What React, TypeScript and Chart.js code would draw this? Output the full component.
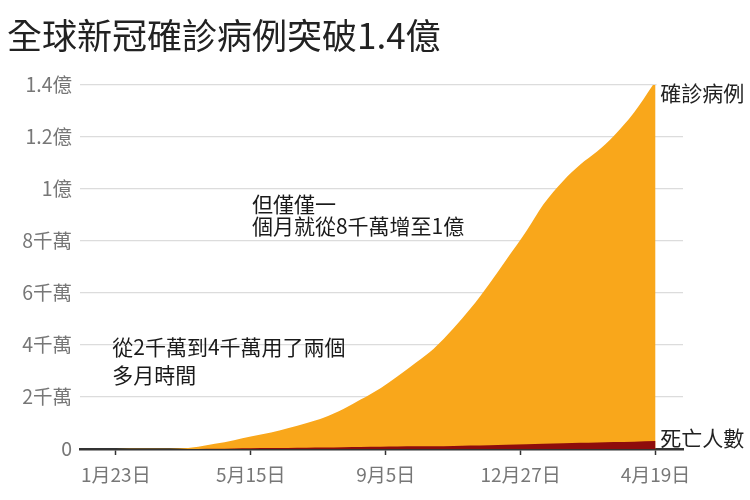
import React, { useEffect, useRef } from "react";
import { Chart, registerables } from "chart.js";

Chart.register(...registerables);

const FONT = '"Noto Sans CJK TC", "Noto Sans", sans-serif';

const TITLE = "全球新冠確診病例突破1.4億";

// Data (values in millions of people)
const dates = [
  "2020-01-23", "2020-02-15", "2020-03-01", "2020-03-15", "2020-04-01",
  "2020-04-15", "2020-05-01", "2020-05-15", "2020-06-01", "2020-06-15",
  "2020-07-01", "2020-07-15", "2020-08-01", "2020-08-15", "2020-09-01",
  "2020-09-15", "2020-10-01", "2020-10-15", "2020-11-01", "2020-11-15",
  "2020-12-01", "2020-12-15", "2021-01-01", "2021-01-15", "2021-02-01",
  "2021-02-15", "2021-03-01", "2021-03-15", "2021-04-01", "2021-04-19",
];
const confirmedMillions = [
  0.0006, 0.07, 0.09, 0.17, 0.9,
  2.0, 3.4, 4.8, 6.3, 8.0,
  10.0, 12.0, 15.5, 19.0, 23.5,
  28.0, 33.5, 38.5, 46.5, 54.0,
  63.7, 72.8, 83.9, 94.0, 103.3,
  109.4, 114.4, 120.4, 129.4, 141.5,
];
const deathsMillions = [
  0.00002, 0.0017, 0.003, 0.0065, 0.047,
  0.13, 0.24, 0.30, 0.37, 0.43,
  0.51, 0.58, 0.68, 0.76, 0.85,
  0.93, 1.01, 1.09, 1.20, 1.30,
  1.47, 1.63, 1.83, 2.02, 2.23,
  2.39, 2.54, 2.65, 2.83, 3.03,
];

const xTickDates = ["2020-01-23", "2020-05-15", "2020-09-05", "2020-12-27", "2021-04-19"];
const xTickLabels = ["1月23日", "5月15日", "9月5日", "12月27日", "4月19日"];
const yTickValues = [0, 20, 40, 60, 80, 100, 120, 140];
const yTickLabels = ["0", "2千萬", "4千萬", "6千萬", "8千萬", "1億", "1.2億", "1.4億"];

const seriesNames = ["確診病例", "死亡人數"];

const annotationTexts = [
  ["從2千萬到4千萬用了兩個", "多月時間"],
  ["但僅僅一", "個月就從8千萬增至1億"],
];

const dayOf = (d: string) =>
  Math.round((Date.parse(d + "T00:00:00Z") - Date.parse("2020-01-23T00:00:00Z")) / 86400000);

// Annotation anchors in data space (date, values per line)
const annotationAnchors = [
  { date: "2020-01-20", values: [39.2, 28.3] },
  { date: "2020-05-16", values: [94.4, 85.6] },
];
const seriesLabelAnchor = { date: "2021-04-23", values: [136.9, 4.2] };

const textPlugin = {
  id: "textPlugin",
  afterDraw(chart: any) {
    const { ctx } = chart;
    const x = chart.scales.x;
    const y = chart.scales.y;
    ctx.save();
    ctx.textBaseline = "middle";
    ctx.textAlign = "left";

    // Title
    ctx.fillStyle = "#222";
    ctx.font = `35px ${FONT}`;
    ctx.fillText(TITLE, 7, 36);

    // Annotations
    ctx.font = `21px ${FONT}`;
    ctx.fillStyle = "#1a1a1a";
    annotationTexts.forEach((lines, i) => {
      const a = annotationAnchors[i];
      const px = x.getPixelForValue(dayOf(a.date));
      lines.forEach((line, j) => {
        ctx.fillText(line, px, y.getPixelForValue(a.values[j]));
      });
    });

    // Series end labels
    ctx.font = `21px ${FONT}`;
    const lx = x.getPixelForValue(dayOf(seriesLabelAnchor.date));
    const lastX = x.getPixelForValue(dayOf(dates[dates.length - 1]));
    seriesNames.forEach((name, i) => {
      const ly = y.getPixelForValue(seriesLabelAnchor.values[i]);
      if (i === 0) {
        const w = ctx.measureText(name).width;
        ctx.fillStyle = "#fff";
        ctx.fillRect(lastX + 1, ly - 12, lx + w - lastX, 24);
      }
      ctx.fillStyle = "#222";
      ctx.fillText(name, lx, ly);
    });
    ctx.restore();
  },
};

export default function App() {
  const canvasRef = useRef<HTMLCanvasElement | null>(null);

  useEffect(() => {
    const canvas = canvasRef.current;
    if (!canvas) return;
    const days = dates.map(dayOf);
    const xTickDays = xTickDates.map(dayOf);

    const chart = new Chart(canvas, {
      type: "line",
      data: {
        datasets: [
          {
            label: seriesNames[1],
            data: days.map((d, i) => ({ x: d, y: deathsMillions[i] })),
            backgroundColor: "#8E0C0C",
            borderWidth: 0,
            pointRadius: 0,
            fill: "origin",
            cubicInterpolationMode: "monotone",
          },
          {
            label: seriesNames[0],
            data: days.map((d, i) => ({ x: d, y: confirmedMillions[i] })),
            backgroundColor: "#F9A71B",
            borderWidth: 0,
            pointRadius: 0,
            fill: "origin",
            cubicInterpolationMode: "monotone",
          },
        ],
      },
      options: {
        animation: false,
        responsive: false,
        devicePixelRatio: 1,
        layout: { padding: { top: 85, right: 67, bottom: 0, left: 0 } },
        plugins: {
          legend: { display: false },
          tooltip: { enabled: false },
          title: { display: false },
        },
        scales: {
          x: {
            type: "linear",
            min: -30,
            max: 475,
            afterBuildTicks: (scale: any) => {
              scale.ticks = xTickDays.map((v) => ({ value: v }));
            },
            afterFit: (scale: any) => {
              scale.height = 51;
            },
            ticks: {
              autoSkip: false,
              maxRotation: 0,
              padding: 8,
              color: "#777",
              font: { family: FONT, size: 19 },
              callback: (v: any) => xTickLabels[xTickDays.indexOf(Number(v))] ?? "",
            },
            grid: {
              drawOnChartArea: false,
              drawTicks: true,
              tickLength: 6,
              tickColor: "#333",
              tickWidth: 1.5,
            },
            border: { display: true, color: "#333", width: 2.5 },
          },
          y: {
            type: "linear",
            min: 0,
            max: 140,
            afterBuildTicks: (scale: any) => {
              scale.ticks = yTickValues.map((v) => ({ value: v }));
            },
            afterFit: (scale: any) => {
              scale.width = 80;
            },
            ticks: {
              padding: 8,
              color: "#777",
              font: { family: FONT, size: 19.5 },
              callback: (v: any) => yTickLabels[yTickValues.indexOf(Number(v))] ?? "",
            },
            grid: {
              drawTicks: false,
              color: "#dcdcdc",
              lineWidth: 1.2,
            },
            border: { display: false },
          },
        },
      } as any,
      plugins: [textPlugin],
    });
    return () => chart.destroy();
  }, []);

  return (
    <div style={{ position: "absolute", left: 0, top: 0, width: 750, height: 500, background: "#fff" }}>
      <canvas ref={canvasRef} width={750} height={500} style={{ display: "block" }} />
    </div>
  );
}
